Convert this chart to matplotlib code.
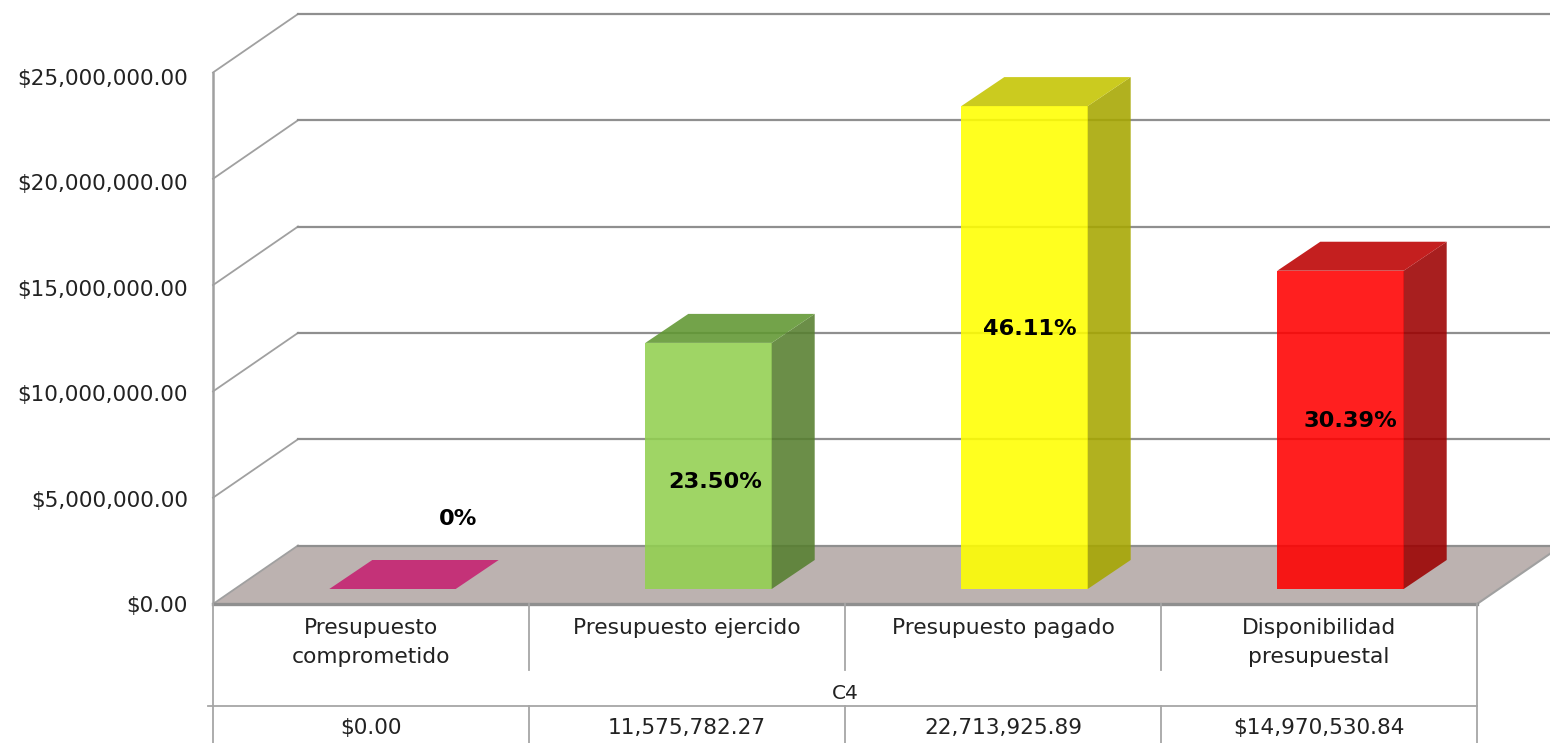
import matplotlib
matplotlib.use("Agg")
import matplotlib.pyplot as plt

categories = ["Presupuesto\ncomprometido", "Presupuesto ejercido", "Presupuesto pagado", "Disponibilidad\npresupuestal"]
values = [0.00, 11575782.27, 22713925.89, 14970530.84]
value_labels = ["$0.00", "11,575,782.27", "22,713,925.89", "$14,970,530.84"]
percent_labels = ["0%", "23.50%", "46.11%", "30.39%"]
group_label = "C4"
y_ticks = [0, 5000000, 10000000, 15000000, 20000000, 25000000]

# label centres, in pixels away from the middle of each bar front
percent_dx = [66, 6.5, 5, 10]
percent_dy = [-70, 16, -19, -9]

front_colors = ["#c43278", "#92d050", "#ffff00", "#ff0000"]
side_colors = ["#c43278", "#567f2f", "#a6a600", "#9c0000"]
top_colors = ["#c43278", "#609731", "#c4c400", "#bc0000"]

plt.rcParams['font.family'] = ['DejaVu Sans']

W = 1550
H = 743
left = 213
right = 1477
y0 = 604
y25 = 72.5

fig = plt.figure(figsize=(W / 100, H / 100), dpi=100)
ax = fig.add_axes([left / W, (H - y0) / H, (right - left) / W, (y0 - y25) / H])
ax.set_xlim(0, 4)
ax.set_ylim(0, 25000000)
ax.axis("off")

# pixel to data sizes
px_x = 4 / (right - left)
px_y = 25000000 / (y0 - y25)

wall_dx = 85 * px_x
wall_dy = 58.5 * px_y
bar_dx = 43 * px_x
bar_dy = 29 * px_y
bar_w = 0.40
shift_x = 21.5 * px_x
shift_y = 15 * px_y
grid_col = "#8f8f8f"

# floor
ax.fill([0, 4, 4 + wall_dx, wall_dx], [0, 0, wall_dy, wall_dy], color="#bcb2b0", lw=0, clip_on=False, zorder=1)
ax.plot([4, 4 + wall_dx], [0, wall_dy], color="#a0a0a0", lw=1.5, clip_on=False, zorder=2)

# walls and grid
for t in y_ticks:
    ax.plot([0, wall_dx], [t, t + wall_dy], color="#a0a0a0", lw=1.3, clip_on=False, zorder=2)
    ax.plot([wall_dx, 4 + wall_dx], [t + wall_dy, t + wall_dy], color=grid_col, lw=1.6, clip_on=False, zorder=2)
    ax.text(-25 * px_x, t * 0.992 - 2 * px_y, "${:,.2f}".format(t), ha="right", va="center", fontsize=15.5, color="#222222", clip_on=False)
ax.plot([0, 0], [0, 25000000], color="#a0a0a0", lw=1.8, clip_on=False, zorder=2)
ax.plot([0, 4], [0, 0], color=grid_col, lw=2.4, clip_on=False, zorder=3)

# bars
for i in range(4):
    x1 = i + 0.5 - bar_w / 2 + shift_x
    x2 = x1 + bar_w
    b = shift_y
    t = shift_y + values[i]
    if values[i] > 0:
        ax.fill([x1, x2, x2, x1], [b, b, t, t], color=front_colors[i], alpha=0.88, lw=0, clip_on=False, zorder=5)
        ax.fill([x2, x2 + bar_dx, x2 + bar_dx, x2], [b, b + bar_dy, t + bar_dy, t], color=side_colors[i], alpha=0.88, lw=0, clip_on=False, zorder=5)
        ax.fill([x1, x2, x2 + bar_dx, x1 + bar_dx], [t, t, t + bar_dy, t + bar_dy], color=top_colors[i], alpha=0.88, lw=0, clip_on=False, zorder=5)
    else:
        ax.fill([x1, x2, x2 + bar_dx, x1 + bar_dx], [t, t, t + bar_dy, t + bar_dy], color=top_colors[i], lw=0, clip_on=False, zorder=5)
    ax.text((x1 + x2) / 2 + percent_dx[i] * px_x, shift_y + values[i] / 2 - percent_dy[i] * px_y, percent_labels[i],
            ha="center", va="center", fontsize=16.2, fontweight="bold", color="black", zorder=6, clip_on=False)

# table under the chart
tab = fig.add_axes([left / W, 0, (right - left) / W, (H - y0) / H])
tab.set_xlim(0, 4)
tab.set_ylim(H, y0)
tab.axis("off")
line_col = "#a6a6a6"
for i in range(5):
    if i == 0 or i == 4:
        tab.plot([i, i], [y0, H], color=line_col, lw=1.3, clip_on=False)
    else:
        tab.plot([i, i], [y0, 670], color=line_col, lw=1.3, clip_on=False)
        tab.plot([i, i], [706, H], color=line_col, lw=1.3, clip_on=False)
tab.plot([-5 * px_x, 4], [706, 706], color=line_col, lw=1.3, clip_on=False)

for i in range(4):
    if "\n" in categories[i]:
        a, c = categories[i].split("\n")
        tab.text(i + 0.5, 628, a, ha="center", va="center", fontsize=15.7, color="#222222")
        tab.text(i + 0.5, 657, c, ha="center", va="center", fontsize=15.7, color="#222222")
    else:
        tab.text(i + 0.5, 628, categories[i], ha="center", va="center", fontsize=15.7, color="#222222")
    tab.text(i + 0.5, 728, value_labels[i], ha="center", va="center", fontsize=15.6, color="#222222")
tab.text(2, 694, group_label, ha="center", va="center", fontsize=14.5, color="#222222")

fig.savefig("out.png", dpi=100)
